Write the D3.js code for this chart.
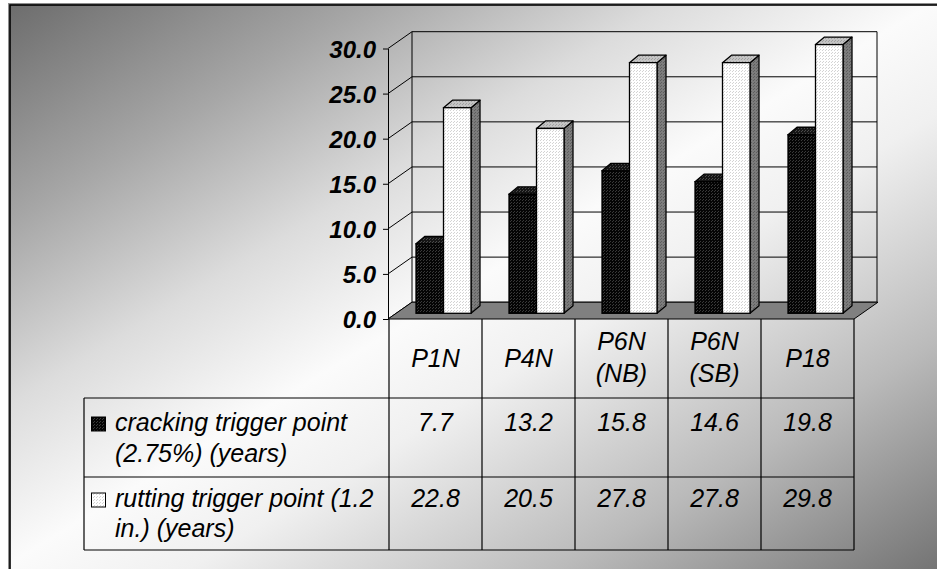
<!DOCTYPE html>
<html>
<head>
<meta charset="utf-8">
<script src="https://cdn.jsdelivr.net/npm/d3@7"></script>
<style>
  html, body { margin: 0; padding: 0; background: #fff; }
  svg { display: block; }
  text { font-family: "Liberation Sans", Arial, sans-serif; font-style: italic; fill: #000; }
</style>
</head>
<body>
<svg id="chart" width="937" height="569"></svg>
<script>
// ---------- DATA ----------
const categories = ["P1N", "P4N", "P6N (NB)", "P6N (SB)", "P18"];
const categoryLines = [["P1N"], ["P4N"], ["P6N", "(NB)"], ["P6N", "(SB)"], ["P18"]];
const seriesNames = ["cracking trigger point (2.75%) (years)", "rutting trigger point (1.2 in.) (years)"];
const seriesLines = [["cracking trigger point", "(2.75%) (years)"], ["rutting trigger point (1.2", "in.) (years)"]];
const crackingValues = [7.7, 13.2, 15.8, 14.6, 19.8];
const ruttingValues = [22.8, 20.5, 27.8, 27.8, 29.8];
const tickValues = [0, 5, 10, 15, 20, 25, 30];
const tickLabels = ["0.0", "5.0", "10.0", "15.0", "20.0", "25.0", "30.0"];

const seriesValues = [crackingValues, ruttingValues];

// ---------- SETUP ----------
const svg = d3.select("#chart");
const W = 937, H = 569;
const defs = svg.append("defs");

// background gradient
const grad = defs.append("linearGradient").attr("id", "bg")
  .attr("gradientUnits", "userSpaceOnUse")
  .attr("x1", 0).attr("y1", 0).attr("x2", 505).attr("y2", 832);
[[0, "#6a6a6a"], [0.2, "#a6a6a6"], [0.36, "#dcdcdc"], [0.5, "#fbfbfb"], [0.6, "#f0f0f0"], [0.8, "#bababa"], [1, "#747474"]]
  .forEach(([o, c]) => grad.append("stop").attr("offset", o).attr("stop-color", c));

function dotPattern(id, bg, dot) {
  const p = defs.append("pattern").attr("id", id).attr("patternUnits", "userSpaceOnUse")
    .attr("width", 3).attr("height", 3);
  p.append("rect").attr("width", 3).attr("height", 3).attr("fill", bg);
  p.append("rect").attr("x", 1).attr("y", 1).attr("width", 1).attr("height", 1).attr("fill", dot);
  p.append("rect").attr("x", 0).attr("y", 2).attr("width", 1).attr("height", 1).attr("fill", dot);
}
dotPattern("pBlackFront", "#050505", "#3a3a3a");
dotPattern("pBlackTop", "#151515", "#4a4a4a");
dotPattern("pBlackSide", "#0a0a0a", "#333");
dotPattern("pWhiteFront", "#ffffff", "#d4d4d4");
dotPattern("pWhiteTop", "#c4c4c4", "#a0a0a0");
dotPattern("pWhiteSide", "#7c7c7c", "#5e5e5e");

const faceFill = [
  { front: "url(#pBlackFront)", top: "url(#pBlackTop)", side: "url(#pBlackSide)" },
  { front: "url(#pWhiteFront)", top: "url(#pWhiteTop)", side: "url(#pWhiteSide)" }
];

// background + frame
svg.append("rect").attr("width", W).attr("height", H).attr("fill", "#fff");
svg.append("rect").attr("x", 8).attr("y", 3).attr("width", W).attr("height", H)
  .attr("fill", "#8e8e8e");
svg.append("rect").attr("x", 10).attr("y", 5).attr("width", W).attr("height", H)
  .attr("fill", "url(#bg)").attr("stroke", "#000").attr("stroke-width", 1.6);

// ---------- SCALES ----------
const frontLeft = 389, frontRight = 854;
const y = d3.scaleLinear().domain([0, 30]).range([319, 48.5]);
const depth = { dx: 24, dy: -16.8 };         // back wall offset
const barPlane = { dx: 8, dy: -5.7 };        // bars' front plane
const barDepth = { dx: 9, dy: -7.5 };        // bar thickness
const x = d3.scaleBand().domain(categories).range([frontLeft, frontRight]);
const xSub = d3.scaleBand().domain(seriesNames).range([-27.5, 27.5]);

const g = svg.append("g");

// ---------- BACK WALL & SIDE WALL ----------
const backL = frontLeft - 1 + depth.dx, backR = frontRight - 1 + depth.dx;
tickValues.forEach(v => {
  g.append("line")
    .attr("x1", backL).attr("x2", backR)
    .attr("y1", y(v) + depth.dy).attr("y2", y(v) + depth.dy)
    .attr("stroke", "#000").attr("stroke-width", 1);
  g.append("line")
    .attr("x1", frontLeft - 1).attr("x2", backL)
    .attr("y1", y(v)).attr("y2", y(v) + depth.dy)
    .attr("stroke", "#000").attr("stroke-width", 1);
});
g.append("line").attr("x1", backL).attr("x2", backL)
  .attr("y1", y(30) + depth.dy).attr("y2", y(0) + depth.dy).attr("stroke", "#000");
g.append("line").attr("x1", backR).attr("x2", backR)
  .attr("y1", y(30) + depth.dy).attr("y2", y(0) + depth.dy).attr("stroke", "#000");

// floor
g.append("path")
  .attr("d", `M${frontLeft - 1},${y(0)} L${frontRight},${y(0)} L${frontRight + depth.dx},${y(0) + depth.dy} L${backL},${y(0) + depth.dy} Z`)
  .attr("fill", "#808080").attr("stroke", "#000").attr("stroke-width", 1);

// ---------- AXIS ----------
const axis = d3.axisLeft(y).tickValues(tickValues).tickSize(5).tickSizeOuter(0)
  .tickFormat((d, i) => tickLabels[i]);
const ax = g.append("g").attr("transform", `translate(${frontLeft - 1},0)`).call(axis);
ax.select(".domain").attr("stroke", "#000");
ax.selectAll(".tick line").attr("stroke", "#000");
ax.selectAll(".tick text")
  .attr("x", -12).attr("dy", "0.36em")
  .style("font-family", "'Liberation Sans', Arial, sans-serif")
  .style("font-size", "24px").style("font-weight", "bold").style("font-style", "italic")
  .attr("fill", "#000");

// ---------- BARS ----------
const bars = g.append("g");
categories.forEach((cat, ci) => {
  seriesNames.forEach((s, si) => {
    const v = seriesValues[si][ci];
    const x0 = x(cat) + x.bandwidth() / 2 + xSub(s) + barPlane.dx;
    const x1 = x0 + xSub.bandwidth();
    const yb = y(0) + barPlane.dy;
    const yt = y(v) + barPlane.dy;
    const f = faceFill[si];
    const bg = bars.append("g");
    bg.append("path")
      .attr("d", `M${x1},${yb} L${x1 + barDepth.dx},${yb + barDepth.dy} L${x1 + barDepth.dx},${yt + barDepth.dy} L${x1},${yt} Z`)
      .attr("fill", f.side).attr("stroke", "#000").attr("stroke-width", 1.3).attr("stroke-linejoin", "round");
    bg.append("path")
      .attr("d", `M${x0},${yt} L${x1},${yt} L${x1 + barDepth.dx},${yt + barDepth.dy} L${x0 + barDepth.dx},${yt + barDepth.dy} Z`)
      .attr("fill", f.top).attr("stroke", "#000").attr("stroke-width", 1.3).attr("stroke-linejoin", "round");
    bg.append("rect")
      .attr("x", x0).attr("y", yt).attr("width", x1 - x0).attr("height", yb - yt)
      .attr("fill", f.front).attr("stroke", "#000").attr("stroke-width", 1.3);
  });
});

// ---------- DATA TABLE ----------
const tableLeft = 84;
const rowTops = [319, 398, 477, 550];
const tg = svg.append("g");
const lineAttr = sel => sel.attr("stroke", "#000").attr("stroke-width", 1.2);
const tableFont = "25px";

tg.append("line").attr("x1", tableLeft).attr("x2", frontRight).attr("y1", rowTops[1]).attr("y2", rowTops[1]).call(lineAttr);
tg.append("line").attr("x1", tableLeft).attr("x2", frontRight).attr("y1", rowTops[2]).attr("y2", rowTops[2]).call(lineAttr);
tg.append("line").attr("x1", tableLeft).attr("x2", frontRight).attr("y1", rowTops[3]).attr("y2", rowTops[3]).call(lineAttr);
tg.append("line").attr("x1", tableLeft).attr("x2", tableLeft).attr("y1", rowTops[1]).attr("y2", rowTops[3]).call(lineAttr);
const colEdges = categories.map(c => x(c)).concat([frontRight]);
colEdges.forEach(cx => {
  tg.append("line").attr("x1", cx).attr("x2", cx).attr("y1", rowTops[0]).attr("y2", rowTops[3]).call(lineAttr);
});

// category labels
categories.forEach((cat, ci) => {
  const lines = categoryLines[ci];
  const cx = x(cat) + x.bandwidth() / 2;
  const t = tg.append("text").attr("text-anchor", "middle").style("font-size", tableFont);
  const base = lines.length === 1 ? 367 : 350;
  lines.forEach((l, li) => t.append("tspan").attr("x", cx).attr("y", base + li * 32).text(l));
});

// legend rows and values
const rowBase = [[431, 462], [507, 537]];
const swatchFill = ["url(#pBlackFront)", "url(#pWhiteFront)"];
seriesNames.forEach((s, si) => {
  tg.append("rect").attr("x", 91.5).attr("y", rowBase[si][0] - 14).attr("width", 14).attr("height", 14)
    .attr("fill", swatchFill[si]).attr("stroke", "#000").attr("stroke-width", 1);
  const t = tg.append("text").style("font-size", tableFont);
  seriesLines[si].forEach((l, li) => t.append("tspan").attr("x", 115).attr("y", rowBase[si][li]).text(l));
  categories.forEach((cat, ci) => {
    tg.append("text").attr("text-anchor", "middle")
      .attr("x", x(cat) + x.bandwidth() / 2).attr("y", rowBase[si][0])
      .style("font-size", tableFont)
      .text(seriesValues[si][ci].toFixed(1));
  });
});
</script>
</body>
</html>
